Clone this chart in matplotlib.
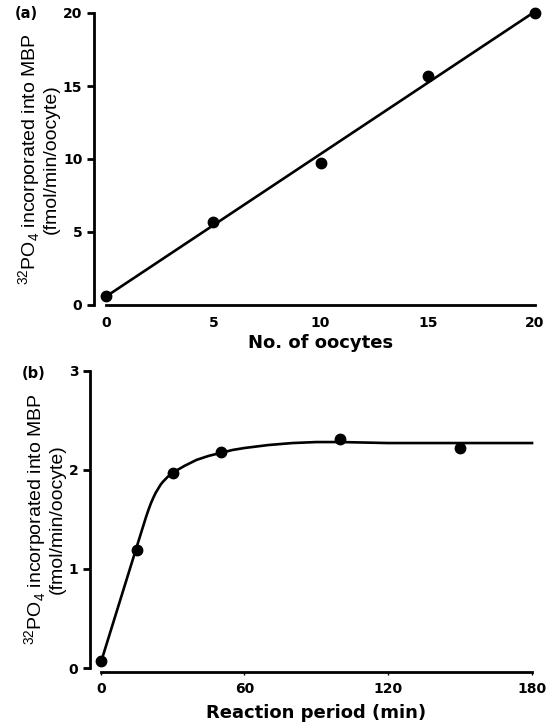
import numpy as np
import matplotlib.pyplot as plt

plt.rcParams['font.family'] = ['Liberation Sans', 'DejaVu Sans']
plt.rcParams['mathtext.fontset'] = 'custom'
plt.rcParams['mathtext.rm'] = 'Liberation Sans'

# (a) phosphorylation vs number of oocytes
oocytes = [0, 5, 10, 15, 20]
incorp_a = [0.6, 5.7, 9.7, 15.7, 20.0]

# (b) time course
minutes = [0, 15, 30, 50, 100, 150]
incorp_b = [0.07, 1.19, 1.97, 2.18, 2.31, 2.22]

# hand-drawn curve in (b)
curve_t = [0, 5, 10, 15, 19, 20, 21, 22, 23, 24, 25, 26, 28, 30, 35, 40, 45, 50, 55, 60,
           70, 80, 90, 100, 120, 150, 180]
curve_v = [0.05, 0.44, 0.83, 1.22, 1.53, 1.60, 1.665, 1.72, 1.77, 1.81, 1.85, 1.88, 1.93, 1.97,
           2.04, 2.10, 2.14, 2.17, 2.20, 2.22, 2.25, 2.27, 2.28, 2.28, 2.27, 2.27, 2.27]

ylab = '$^{32}$PO$_4$ incorporated into MBP\n(fmol/min/oocyte)'
bold = ['DejaVu Sans']
W, H = 555, 725

fig = plt.figure(figsize=(5.55, 7.25), dpi=100)
ax1 = fig.add_axes([106 / W, 1 - 305 / H, (535 - 106) / W, (305 - 13) / H])
ax2 = fig.add_axes([100.7 / W, 1 - 668 / H, (532 - 100.7) / W, (668 - 370.7) / H])


def style(ax, ylab_x, yspine_out, xspine_out):
    for s in ['top', 'right']:
        ax.spines[s].set_visible(False)
    ax.spines['left'].set_position(('outward', yspine_out))
    ax.spines['bottom'].set_position(('outward', xspine_out))
    for s in ['left', 'bottom']:
        ax.spines[s].set_linewidth(2.0)
    ax.tick_params(axis='y', length=5, width=2, pad=3, labelsize=10)
    for lab in ax.get_xticklabels() + ax.get_yticklabels():
        lab.set_fontweight('bold')
        lab.set_family(bold)
    ax.set_ylabel(ylab, fontsize=14, linespacing=1.0)
    ax.yaxis.set_label_coords(ylab_x, 0.5)


# panel a
fit = np.polyfit(oocytes, incorp_a, 1)
xs = np.array([oocytes[0], oocytes[-1]])
ax1.plot(xs, np.polyval(fit, xs), color='black', lw=1.9, solid_capstyle='round')
ax1.plot(oocytes, incorp_a, 'o', color='black', ms=7.5, clip_on=False)
ax1.set_xlim(0, 20)
ax1.set_ylim(0, 20)
ax1.set_xticks([0, 5, 10, 15, 20])
ax1.set_yticks([0, 5, 10, 15, 20])
ax1.tick_params(axis='x', length=0, pad=8, labelsize=10)
style(ax1, -0.107, 9, 0)
ax1.set_xlabel('No. of oocytes', fontsize=13, fontweight='bold', family=bold, labelpad=3)

# panel b
ax2.plot(curve_t, curve_v, color='black', lw=1.9, clip_on=False)
ax2.plot(minutes, incorp_b, 'o', color='black', ms=7.5, clip_on=False)
ax2.set_xlim(0, 180)
ax2.set_ylim(0, 3)
ax2.set_xticks([0, 60, 120, 180])
ax2.set_yticks([0, 1, 2, 3])
ax2.tick_params(axis='x', length=2, width=1, pad=5, labelsize=10)
style(ax2, -0.08, 8, 3)
ax2.set_xlabel('Reaction period (min)', fontsize=13, fontweight='bold', family=bold, labelpad=6)

fig.text(15 / W, 1 - 13 / H, '(a)', fontsize=10.5, fontweight='bold', family=bold,
         va='center', ha='left')
fig.text(22 / W, 1 - 374 / H, '(b)', fontsize=10.5, fontweight='bold', family=bold,
         va='center', ha='left')

fig.savefig('out.png', dpi=100)
